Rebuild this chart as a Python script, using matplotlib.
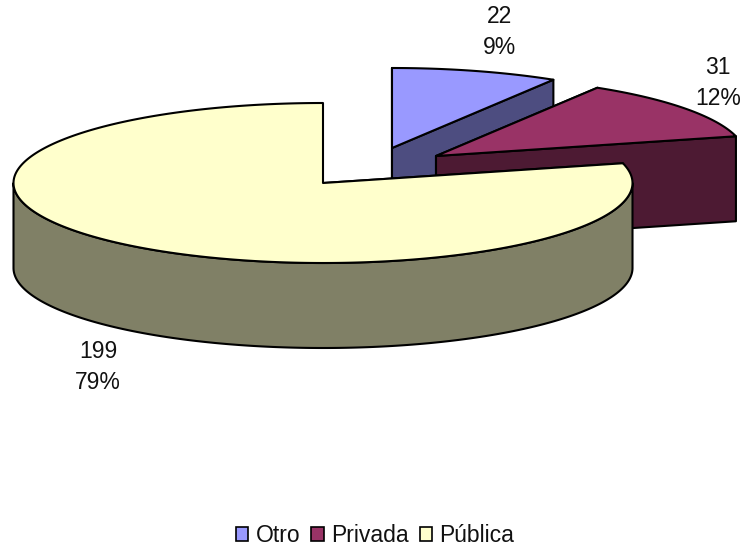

# 3D style exploded pie, drawn by hand since matplotlib has no 3D pie
import numpy as np
import matplotlib
matplotlib.use('Agg')
import matplotlib.pyplot as plt
from matplotlib.patches import Patch, Polygon

plt.rcParams['font.family'] = ['Liberation Sans', 'DejaVu Sans']

categories = ['Otro', 'Privada', 'Pública']
values = [22, 31, 199]
percents = ['9%', '12%', '79%']

top_colors = ['#9999FF', '#993366', '#FFFFCC']
side_colors = ['#4D4D80', '#4D1A33', '#808066']

# centres of each slice in pixels
centres = [(392, 148), (436, 156), (323, 183)]
label_pos = [(500, 32), (718, 83), (98, 367)]
rx, ry, depth = 309.5, 80, 85


def arc(cx, cy, a0, a1):
    """points on the ellipse, angles clockwise from 12 o'clock (degrees)"""
    th = np.radians(np.linspace(a0, a1, max(int(a1 - a0) * 2, 2)))
    return np.column_stack((cx + rx * np.sin(th), cy - ry * np.cos(th)))


def draw_slice(ax, cx, cy, a0, a1, top, side):
    edge = dict(edgecolor='black', linewidth=1.5, joinstyle='round')
    down = np.array([0, depth])
    apex = np.array([[cx, cy]])

    # flat cut faces
    for a in (a0, a1):
        if a < 180:
            end = arc(cx, cy, a, a + 0.001)[:1]
            face = np.vstack((apex, end, end + down, apex + down))
            ax.add_patch(Polygon(face, facecolor=side, **edge))

    # outer wall, front half of the ellipse only
    f0, f1 = max(a0, 90), min(a1, 270)
    if f1 > f0:
        rim = arc(cx, cy, f0, f1)
        wall = np.vstack((rim, (rim + down)[::-1]))
        ax.add_patch(Polygon(wall, facecolor=side, **edge))

    ring = arc(cx, cy, a0, a1)
    ax.add_patch(Polygon(np.vstack((apex, ring)), facecolor=top, **edge))


fig = plt.figure(figsize=(7.45, 5.51), dpi=100)
ax = fig.add_axes([0, 0, 1, 1])
ax.set_xlim(0, 745)
ax.set_ylim(551, 0)
ax.axis('off')

angles = np.cumsum([0] + values) / sum(values) * 360
for i in range(len(values)):
    cx, cy = centres[i]
    draw_slice(ax, cx, cy, angles[i], angles[i + 1], top_colors[i], side_colors[i])
    ax.text(label_pos[i][0], label_pos[i][1], '%d\n%s' % (values[i], percents[i]),
            ha='center', va='center', fontsize=16.5, linespacing=1.42, color='#111111')

handles = [Patch(facecolor=c, edgecolor='black', linewidth=1.2) for c in top_colors]
fig.legend(handles, categories, loc='center', bbox_to_anchor=(375 / 745, 1 - 536 / 551),
           ncol=3, frameon=False, fontsize=16.5, handlelength=0.55, handleheight=0.55,
           handletextpad=0.32, columnspacing=0.48, borderpad=0, labelcolor='#111111')

fig.savefig('out.png', dpi=100)
